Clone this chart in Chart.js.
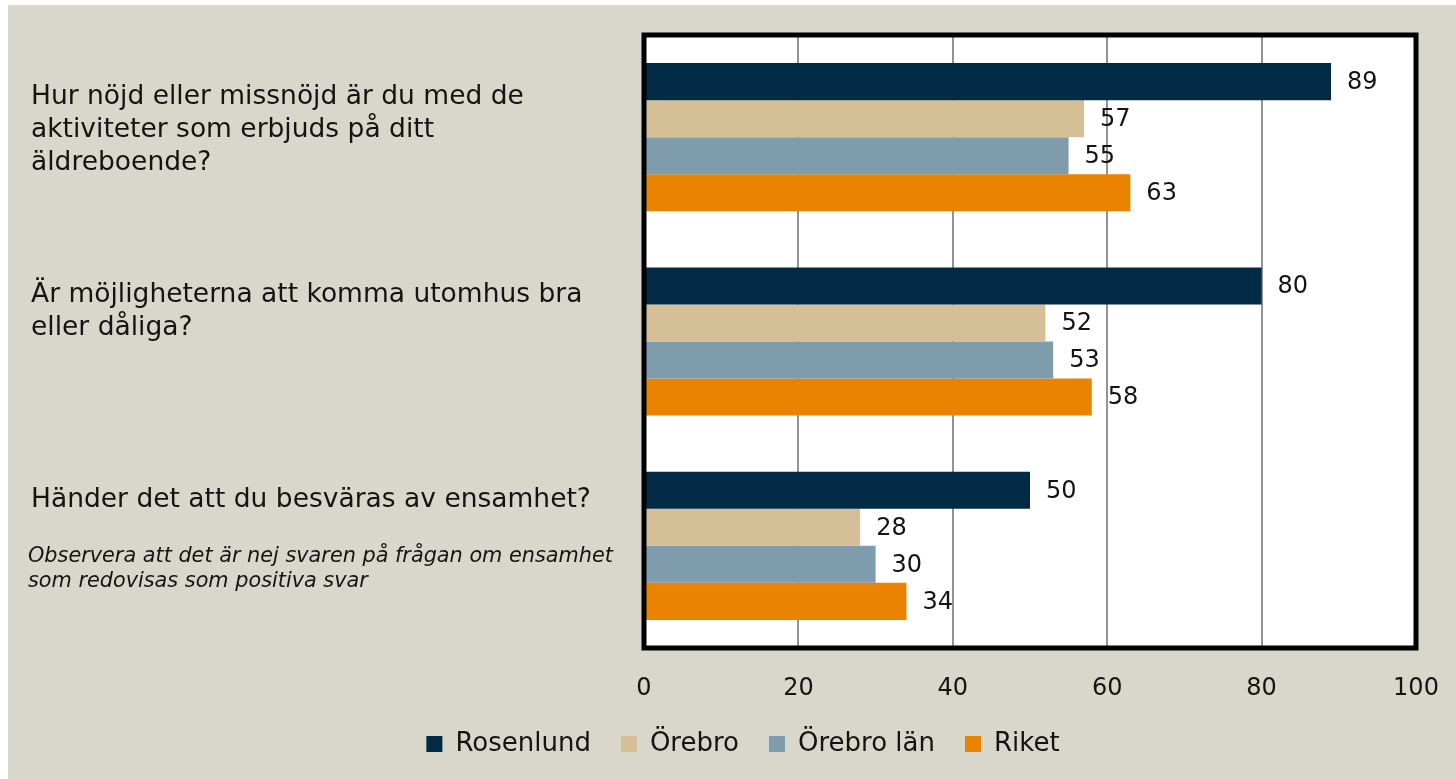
<!DOCTYPE html>
<html>
<head>
<meta charset="utf-8">
<script src="https://cdn.jsdelivr.net/npm/chart.js@4/dist/chart.umd.min.js"></script>
<style>
  html, body { margin: 0; padding: 0; background: #ffffff; }
  #wrap { width: 1456px; height: 779px; }
</style>
</head>
<body>
<div id="wrap"><canvas id="chart" width="1456" height="779"></canvas></div>
<script>
// questions (multi-line) and note under the last one
const questions = [
  ["Hur nöjd eller missnöjd är du med de", "aktiviteter som erbjuds på ditt", "äldreboende?"],
  ["Är möjligheterna att komma utomhus bra", "eller dåliga?"],
  ["Händer det att du besväras av ensamhet?"]
];
const noteLines = [
  "Observera att det är nej svaren på frågan om ensamhet",
  "som redovisas som positiva svar"
];

const seriesNames = ["Rosenlund", "Örebro", "Örebro län", "Riket"];
const rosenlund = [89, 80, 50];
const orebro = [57, 52, 28];
const orebroLan = [55, 53, 30];
const riket = [63, 58, 34];

const xMin = 0;
const xMax = 100;
const xStep = 20;

const colors = ["#012b45", "#d4bf96", "#7f9cad", "#e98300"];
const FONT = "'DejaVu Sans', sans-serif";
const TEXT = "#141414";

const background = {
  id: "background",
  beforeDraw(chart) {
    const { ctx, width, height, chartArea: a } = chart;
    ctx.save();
    ctx.fillStyle = "#ffffff";
    ctx.fillRect(0, 0, width, height);
    ctx.fillStyle = "#d9d7cb";
    ctx.fillRect(8, 5, width - 8, height - 5);
    ctx.fillStyle = "#ffffff";
    ctx.fillRect(a.left, a.top, a.right - a.left, a.bottom - a.top);
    ctx.restore();
  }
};

const frameAndLabels = {
  id: "frameAndLabels",
  afterDatasetsDraw(chart) {
    const { ctx, chartArea: a } = chart;
    ctx.save();
    // plot frame
    ctx.strokeStyle = "#000000";
    ctx.lineWidth = 5;
    ctx.strokeRect(a.left, a.top, a.right - a.left, a.bottom - a.top);

    // value labels next to bars
    ctx.fillStyle = TEXT;
    ctx.font = "24px " + FONT;
    ctx.textBaseline = "middle";
    ctx.textAlign = "left";
    chart.data.datasets.forEach((ds, i) => {
      chart.getDatasetMeta(i).data.forEach((bar, j) => {
        ctx.fillText(String(ds.data[j]), bar.x + 16, bar.y + 1);
      });
    });

    // question labels on the left
    const yScale = chart.scales.y;
    const firstOffset = [-33, -40, -39];
    ctx.textBaseline = "alphabetic";
    ctx.font = "26.5px " + FONT;
    questions.forEach((lines, i) => {
      const c = yScale.getPixelForValue(i);
      lines.forEach((line, k) => {
        ctx.fillText(line, 31, c + firstOffset[i] + k * 33);
      });
    });

    // italic note under the last question
    const c3 = yScale.getPixelForValue(2);
    ctx.font = "italic 20.8px " + FONT;
    noteLines.forEach((line, k) => {
      ctx.fillText(line, 28, c3 + 16 + k * 25);
    });
    ctx.restore();
  }
};

const datasets = [rosenlund, orebro, orebroLan, riket].map((values, i) => ({
  label: seriesNames[i],
  data: values,
  backgroundColor: colors[i],
  borderWidth: 0,
  barPercentage: 1.0,
  categoryPercentage: 0.725
}));

new Chart(document.getElementById("chart"), {
  type: "bar",
  data: {
    labels: questions.map(q => q.join(" ")),
    datasets: datasets
  },
  options: {
    indexAxis: "y",
    responsive: false,
    animation: false,
    layout: { padding: { top: 35, left: 30, right: 0, bottom: 12 } },
    scales: {
      x: {
        min: xMin,
        max: xMax,
        ticks: {
          stepSize: xStep,
          padding: 26,
          color: TEXT,
          font: { family: FONT, size: 24 }
        },
        grid: {
          drawTicks: false,
          color: ctx => (ctx.tick.value === xMin || ctx.tick.value === xMax) ? "rgba(0,0,0,0)" : "#939393",
          lineWidth: 2
        },
        border: { display: false },
        afterFit: scale => {
          scale.height = 53;
          scale.paddingRight = 40;
        }
      },
      y: {
        ticks: { display: false },
        grid: { display: false },
        border: { display: false },
        afterFit: scale => { scale.width = 614; }
      }
    },
    plugins: {
      legend: {
        position: "bottom",
        labels: {
          boxWidth: 16,
          boxHeight: 16,
          padding: 30,
          color: TEXT,
          font: { family: FONT, size: 26 }
        }
      },
      tooltip: { enabled: false }
    }
  },
  plugins: [background, frameAndLabels]
});
</script>
</body>
</html>
